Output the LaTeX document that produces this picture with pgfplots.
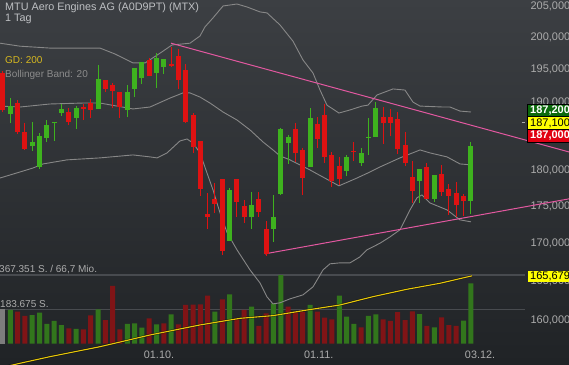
\documentclass[border=0pt]{standalone}
\usepackage{fontspec}
\setmainfont{Liberation Sans}
\usepackage{pgfplots}
\pgfplotsset{compat=1.18}
\usepackage{pgfplotstable}
\usepgfplotslibrary{fillbetween}

\definecolor{bgtop}{RGB}{60,63,67}
\definecolor{bgbot}{RGB}{32,35,38}
\definecolor{cgreen}{RGB}{62,178,30}
\definecolor{cred}{RGB}{222,18,18}
\definecolor{vgreen}{RGB}{50,118,28}
\definecolor{vred}{RGB}{128,20,22}
\definecolor{vgrey}{RGB}{125,125,125}
\definecolor{bandc}{RGB}{135,135,135}
\definecolor{trend}{RGB}{226,88,160}
\definecolor{gdc}{RGB}{232,200,10}
\definecolor{gdtext}{RGB}{214,184,32}
\definecolor{txtc}{RGB}{190,192,195}
\definecolor{bolltext}{RGB}{140,140,140}
\definecolor{ticklab}{RGB}{172,172,172}
\definecolor{boxgreen}{RGB}{12,105,12}
\definecolor{boxred}{RGB}{225,0,18}
\definecolor{boxyellow}{RGB}{255,255,0}
\definecolor{refline}{RGB}{72,75,79}

% candles: x open high low close
\pgfplotstableread{
x o h l c
1 188270 190650 186940 189450
4 183570 187080 182850 184150
5 180550 185460 180260 185010
6 184730 187380 184150 186640
7 186900 187080 184290 187080
8 188420 189750 187970 189010
10 187680 189450 186050 189160
13 189010 195680 189000 193540
17 188860 192630 187820 191570
18 192020 195210 190800 195210
19 193690 196150 192780 196150
21 194450 197550 192170 196770
22 195370 196620 194300 196620
31 170310 177590 170310 177310
34 173570 177030 171940 175210
37 171940 176610 170170 173570
38 176750 186200 176600 186050
39 184010 185160 180980 184870
42 180550 189160 180550 187680
47 179970 182280 179270 181990
49 181130 183290 180690 182570
50 184800 187680 182280 184950
51 184870 190040 184870 189160
57 178570 180260 175490 180260
59 176050 179410 175630 179410
64 175770 184150 173980 183570
}\upc

\pgfplotstableread{
x o h l c
0 194450 194700 188560 188860
2 189900 190350 185310 185600
3 185600 186940 183000 183140
9 188560 189160 186640 187080
11 189250 189750 187380 189050
12 189900 190500 187680 188860
14 193390 193390 191570 192020
15 192630 192930 189160 191720
16 191570 191570 187680 189300
20 196460 196770 194000 194000
23 195800 198490 195370 195600
24 197080 198180 192020 193390
25 194910 195840 186940 187080
26 188120 188420 182570 183430
27 184290 184290 176470 177450
28 173980 176890 171940 173570
29 176050 178290 174120 175350
30 178850 178850 168440 168970
32 178850 178850 173570 175630
33 175070 175910 172760 173570
35 176050 177030 173570 174250
36 171940 173030 168310 168570
40 186050 186940 181270 182570
41 183000 183290 176610 178990
43 186790 187820 183290 184580
44 188120 189750 181130 181990
45 182280 182710 177730 178570
46 180690 181990 178010 178850
48 182800 184150 181410 182620
52 187820 189300 183860 186940
53 187820 189010 185010 186940
54 187530 188560 182420 183140
55 183720 185600 180690 181130
56 179130 181410 175490 177170
58 180550 181130 176050 176050
60 179550 180840 176470 177030
61 177450 178150 173840 176470
62 176890 178430 173570 175210
63 176470 176750 173710 175770
}\downc

% volumes
\pgfplotstableread{
x v
0 183400
}\volgrey
\pgfplotstableread{
x v
1 179700
4 152800
5 165200
6 104600
7 120700
8 99200
10 77800
13 183400
17 104600
18 108300
19 84700
21 103000
23 156600
29 170500
31 263900
34 197400
37 215600
38 367351
42 206500
46 256400
47 143700
48 104600
50 147500
51 156600
57 158200
59 86900
63 122300
64 322900
}\volgreen
\pgfplotstableread{
x v
2 170500
3 147500
9 81500
11 76200
12 151200
14 126000
15 308400
16 76200
20 135100
22 108300
24 103000
25 206500
26 208000
27 210200
28 256400
30 237000
32 135100
33 179700
35 93900
36 162000
39 197400
40 170500
41 170500
43 170500
44 138400
45 129800
49 86900
52 129800
53 120700
54 168900
55 126000
56 172700
58 93900
60 140500
61 99200
62 93900
}\volred

% Bollinger bands
\pgfplotstableread{
x y
-0.41 199111
2.33 198643
6.43 198331
13.27 198331
15.32 197395
17.78 195991
19.43 195991
21.48 197551
23.12 198799
25.58 199111
26.95 200200
27.63 201640
28.73 203080
30.10 205000
32.01 205322
33.38 204840
35.16 204040
36.12 203880
37.89 201960
39.67 199423
41.04 196459
42.41 194453
43.37 191869
44.32 189600
45.96 188416
47.47 188860
49.11 189452
49.93 189600
51.16 191109
53.35 192021
54.99 191869
56.09 190045
57.05 189452
60.19 189304
61.15 189304
62.52 188712
64.02 188564
}\bup
\pgfplotstableread{
x y
-0.41 189452
2.33 189304
6.43 189748
10.94 189896
13.27 189896
17.78 189008
20.11 189304
22.85 190653
24.62 191413
25.58 191413
26.95 190805
28.32 189896
30.10 188564
32.01 187380
33.79 185900
35.57 184150
36.94 182998
37.89 182134
39.26 181558
42.00 180115
45.96 177872
48.43 178992
50.21 179832
51.57 180550
54.31 181846
57.05 182998
58.41 182566
60.74 181990
62.52 180982
64.02 180838
}\bmid
\pgfplotstableread{
x y
-0.41 178992
2.33 179832
4.10 180406
5.47 180982
8.76 181558
13.27 181846
17.78 182278
20.11 181990
21.07 181846
22.44 182566
24.21 184294
25.17 184582
25.99 184006
26.95 182566
27.91 179692
28.73 177312
29.69 174116
30.67 171396
32.01 169102
33.79 166462
35.16 164744
36.12 162949
36.94 162051
37.89 162179
39.26 162692
41.04 163205
42.41 164231
43.78 166462
44.73 167254
46.10 167386
47.47 167386
48.84 168178
49.79 169102
51.57 170000
52.94 170852
54.31 171804
55.68 174524
56.63 176192
57.31 176612
58.41 175490
60.74 174524
62.52 173164
64.02 172892
}\blow

% GD 200
\pgfplotstableread{
x y
-0.41 154051
2.33 154625
6.43 155431
13.27 156665
20.11 158117
26.95 159369
32.42 160215
36.94 160544
41.59 161268
46.10 161905
50.62 162969
55.27 163924
59.78 164703
64.16 165679
}\gd

\pgfplotsset{
  candle/.style 2 args={draw=none, mark=none, forget plot,
    error bars/.cd, y dir=plus, y explicit, error mark=none,
    error bar style={draw=#1, line width=#2, solid}}
}

\begin{document}
\begin{tikzpicture}
\shade[top color=bgtop, bottom color=bgbot] (0,0) rectangle (569pt,364pt);

% volume panel
\begin{axis}[name=vol, width=569pt, height=364pt, scale only axis,
  xmin=-0.41, xmax=77.43, ymin=-109942, ymax=1842190, axis lines=none]
\addplot[refline, line width=1.3pt] coordinates {(-0.41,367351) (71.4,367351)};
\addplot[refline, line width=1.3pt] coordinates {(-0.41,183675) (71.4,183675)};
\addplot[ybar, bar width=5pt, bar shift=0pt, fill=vgrey, draw=none] table[x=x,y=v]{\volgrey};
\addplot[ybar, bar width=5pt, bar shift=0pt, fill=vgreen, draw=none] table[x=x,y=v]{\volgreen};
\addplot[ybar, bar width=5pt, bar shift=0pt, fill=vred, draw=none] table[x=x,y=v]{\volred};
\end{axis}

% price panel
\begin{axis}[name=main, width=569pt, height=364pt, scale only axis,
  xmin=-0.41, xmax=77.43, ymode=log, ymin=154537, ymax=205973,
  axis line style={draw=none}, tick style={draw=none}, major tick length=0pt,
  xtick=\empty, minor ytick={},
  ytick={160000,165000,170000,175000,180000,190000,195000,200000,205000},
  yticklabels={{160,000},{165,000},{170,000},{175,000},{180,000},{190,000},{195,000},{200,000},{205,000}},
  yticklabel pos=right,
  yticklabel style={anchor=east, inner sep=0pt, xshift=1.5pt, text=ticklab, font=\fontsize{11}{13}\selectfont},
  /pgf/number format/assume math mode=true]
\addplot[bandc, line width=0.9pt, name path=bu] table[x=x,y=y]{\bup};
\addplot[bandc, line width=0.9pt, name path=bl] table[x=x,y=y]{\blow};
\addplot[white, fill opacity=0.06, draw=none] fill between[of=bu and bl];
\addplot[bandc, line width=0.9pt] table[x=x,y=y]{\bmid};
\addplot[black, opacity=0.55, line width=2.2pt] table[x=x,y=y]{\gd};
\addplot[gdc, line width=1.1pt] table[x=x,y=y]{\gd};
\addplot[trend, line width=1pt] coordinates {(22.98,199110) (77.43,182710)};
\addplot[trend, line width=1pt] coordinates {(35.85,168570) (77.43,176050)};
% wicks
\addplot[candle={cgreen}{1pt}] table[x=x, y=l, y error plus expr={\thisrow{h}-\thisrow{l}}]{\upc};
\addplot[candle={cred}{1pt}] table[x=x, y=l, y error plus expr={\thisrow{h}-\thisrow{l}}]{\downc};
% bodies
\addplot[candle={cgreen}{5pt}] table[x=x, y=o, y error plus expr={\thisrow{c}-\thisrow{o}}]{\upc};
\addplot[candle={cred}{5pt}] table[x=x, y=c, y error plus expr={\thisrow{o}-\thisrow{c}}]{\downc};
\end{axis}

% texts
\node[anchor=base west, inner sep=0pt, text=txtc, font=\fontsize{10.8}{12}\selectfont] at (5pt,353pt) {MTU Aero Engines AG (A0D9PT) (MTX)};
\node[anchor=base west, inner sep=0pt, text=txtc, font=\fontsize{10.8}{12}\selectfont] at (5pt,342.5pt) {1 Tag};
\node[anchor=base west, inner sep=0pt, text=gdtext, font=\fontsize{10}{12}\selectfont] at (5pt,300pt) {GD: 200};
\node[anchor=base west, inner sep=0pt, text=bolltext, font=\fontsize{10}{12}\selectfont] at (5pt,286.5pt) {Bollinger Band: 20};
\node[anchor=base west, inner sep=0pt, text=ticklab, font=\fontsize{10}{12}\selectfont] at (-1pt,91.3pt) {367.351 S. / 66,7 Mio.};
\node[anchor=base west, inner sep=0pt, text=ticklab, font=\fontsize{10}{12}\selectfont] at (0pt,56.7pt) {183.675 S.};
\node[anchor=base, inner sep=0pt, text=ticklab, font=\fontsize{10.8}{12}\selectfont] at (159pt,5.7pt) {01.10.};
\node[anchor=base, inner sep=0pt, text=ticklab, font=\fontsize{10.8}{12}\selectfont] at (318.7pt,5.7pt) {01.11.};
\node[anchor=base, inner sep=0pt, text=ticklab, font=\fontsize{10.8}{12}\selectfont] at (480pt,5.7pt) {03.12.};

% value boxes
\fill[boxgreen] (527.7pt,247.3pt) rectangle (572pt,259.7pt);
\fill[boxyellow] (527.7pt,235pt) rectangle (572pt,247.3pt);
\fill[boxred] (527.7pt,222pt) rectangle (572pt,235pt);
\draw[black, line width=0.8pt] (527.7pt,222pt) rectangle (572pt,259.7pt);
\draw[black, line width=0.8pt] (527.7pt,247.3pt) -- (572pt,247.3pt);
\draw[black, line width=0.8pt] (527.7pt,235pt) -- (572pt,235pt);
\node[anchor=west, inner sep=0pt, text=white, font=\bfseries\fontsize{11}{12}\selectfont] at (530pt,253.5pt) {187,200};
\node[anchor=west, inner sep=0pt, text=black, font=\fontsize{11}{12}\selectfont] at (530pt,241.1pt) {187,100};
\node[anchor=west, inner sep=0pt, text=white, font=\bfseries\fontsize{11}{12}\selectfont] at (530pt,228.5pt) {187,000};
\draw[ticklab, line width=1pt] (521.5pt,241.3pt) -- (525pt,241.3pt);
\fill[boxyellow] (527.7pt,82pt) rectangle (572pt,93.3pt);
\node[anchor=west, inner sep=0pt, text=black, font=\fontsize{11}{12}\selectfont] at (530pt,87.6pt) {165,679};

\pgfresetboundingbox
\path[use as bounding box] (0,0) rectangle (569pt,364pt);
\end{tikzpicture}
\end{document}
